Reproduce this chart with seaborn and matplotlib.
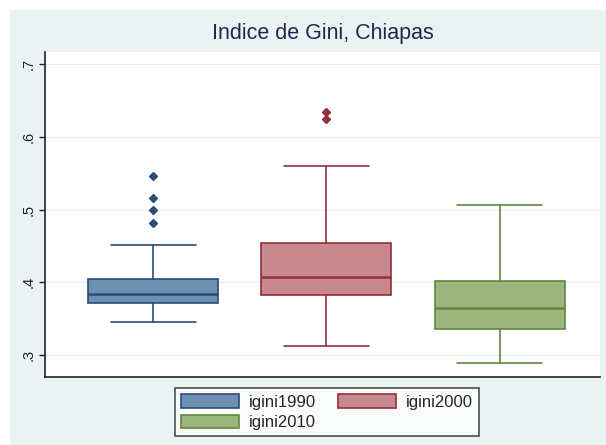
"""
Boxplot — Indice de Gini, Chiapas (1990, 2000, 2010), Stata s2color look
"""
import matplotlib
matplotlib.use("Agg")
import matplotlib.pyplot as plt
from matplotlib.patches import Rectangle, Patch
import seaborn as sns

# summary values
series = ["igini1990", "igini2000", "igini2010"]
whislo = [0.345, 0.312, 0.289]
q1 = [0.3715, 0.3825, 0.336]
med = [0.384, 0.4073, 0.3646]
q3 = [0.4045, 0.4541, 0.4018]
whishi = [0.451, 0.560, 0.5063]
fliers = [[0.482, 0.500, 0.516, 0.546], [0.6245, 0.634], []]

fills = ["#7090b2", "#c9878f", "#9cb47e"]
edges = ["#2b4e77", "#933039", "#60883d"]

sns.set_style("white")
plt.rcParams["font.family"] = ["Liberation Sans", "DejaVu Sans"]

fig = plt.figure(figsize=(6.06, 4.45), dpi=100, facecolor="white")
fig.patches.append(Rectangle((10 / 606, 0), 1, 1 - 10 / 445, transform=fig.transFigure,
                             facecolor="#eaf2f4", edgecolor="none", zorder=-10))
ax = fig.add_axes([45 / 606, 1 - 377 / 445, 555 / 606, 325 / 445])
ax.set_facecolor("white")

stats = [dict(label=s, whislo=a, q1=b, med=c, q3=d, whishi=e, fliers=f)
         for s, a, b, c, d, e, f in zip(series, whislo, q1, med, q3, whishi, fliers)]
bp = ax.bxp(stats, positions=[1, 2, 3], widths=0.75, capwidths=0.49,
            patch_artist=True, showfliers=True)
for i in range(3):
    bp["boxes"][i].set(facecolor=fills[i], edgecolor=edges[i], linewidth=1.2)
    bp["medians"][i].set(color=edges[i], linewidth=1.8)
    for ln in bp["whiskers"][2 * i:2 * i + 2] + bp["caps"][2 * i:2 * i + 2]:
        ln.set(color=edges[i], linewidth=1.2)
    bp["fliers"][i].set(marker="D", markersize=4.5, markerfacecolor=edges[i],
                        markeredgecolor=edges[i])

ax.set_xlim(0.376, 3.578)
ax.set_ylim(0.2697, 0.7168)
ax.set_yticks([0.3, 0.4, 0.5, 0.6, 0.7])
ax.set_yticklabels([".3", ".4", ".5", ".6", ".7"], rotation=90, va="center")
ax.set_xticks([])
ax.tick_params(axis="y", length=4, width=1, color="#222222", labelsize=10.5,
               labelcolor="#222222", left=True, pad=3)
ax.yaxis.grid(True, color="#e8eff2", linewidth=0.8)
ax.set_axisbelow(True)
for side in ["top", "right"]:
    ax.spines[side].set_visible(False)
for side in ["left", "bottom"]:
    ax.spines[side].set_color("#222222")
    ax.spines[side].set_linewidth(1.2)

fig.text(323 / 606, 1 - 33 / 445, "Indice de Gini, Chiapas", ha="center", va="center",
         fontsize=15.5, color="#25264a")

handles = [Patch(facecolor=fills[i], edgecolor=edges[i], linewidth=1.2, label=series[i])
           for i in [0, 2, 1]]
leg = fig.legend(handles=handles, ncol=2, loc="center", bbox_to_anchor=(327 / 606, 1 - 412 / 445),
                 fontsize=12, frameon=True, fancybox=False, edgecolor="#222222",
                 handlelength=3.5, handleheight=0.9, columnspacing=1.3, handletextpad=0.6,
                 borderpad=0.35, labelspacing=0.3)
leg.get_frame().set_linewidth(1.2)
leg.get_frame().set_facecolor("white")

fig.savefig("out.png", dpi=100, facecolor=fig.get_facecolor())
